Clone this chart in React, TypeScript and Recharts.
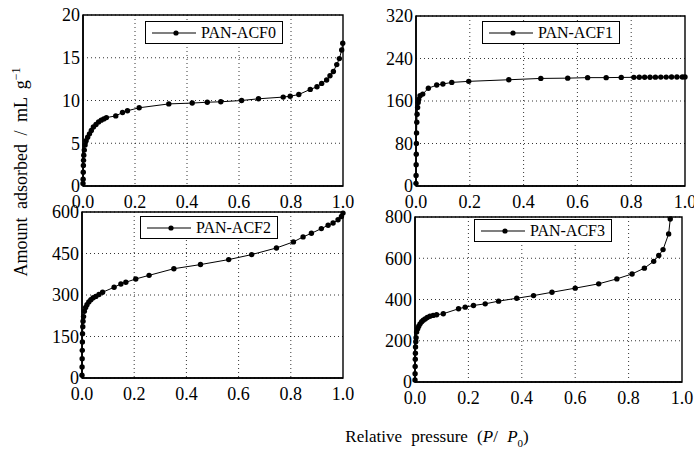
import React from "react"
import {
  LineChart,
  Line,
  XAxis,
  YAxis,
  CartesianGrid,
  ReferenceArea,
  Legend,
} from "recharts"

// relative pressure (P/P0) and amount adsorbed (mL/g) for each fibre
const acf0P = [0, 0.0005, 0.001, 0.0015, 0.002, 0.003, 0.005, 0.008, 0.012, 0.018, 0.025, 0.032, 0.04, 0.05, 0.06, 0.07, 0.08, 0.09, 0.126, 0.152, 0.171, 0.216, 0.33, 0.42, 0.478, 0.53, 0.61, 0.675, 0.77, 0.797, 0.83, 0.874, 0.9, 0.918, 0.937, 0.95, 0.963, 0.976, 0.986, 0.995, 0.999]
const acf0V = [0.3, 0.8, 1.6, 2.4, 3.0, 3.6, 4.2, 4.8, 5.3, 5.7, 6.1, 6.5, 6.9, 7.2, 7.5, 7.7, 7.85, 8.0, 8.2, 8.6, 8.8, 9.15, 9.6, 9.7, 9.8, 9.85, 10.0, 10.2, 10.4, 10.5, 10.7, 11.3, 11.6, 12.0, 12.4, 12.9, 13.4, 14.2, 14.9, 15.9, 16.7]

const acf1P = [0, 0.0003, 0.0006, 0.001, 0.0015, 0.002, 0.003, 0.004, 0.006, 0.008, 0.01, 0.015, 0.025, 0.046, 0.077, 0.1, 0.133, 0.196, 0.345, 0.464, 0.564, 0.638, 0.707, 0.763, 0.81, 0.83, 0.85, 0.87, 0.89, 0.91, 0.93, 0.95, 0.97, 0.99, 1.0]
const acf1V = [5, 20, 40, 60, 80, 100, 120, 135, 148, 157, 163, 170, 173, 184, 190, 192, 195, 197, 200, 202.5, 203, 204, 204, 204.4, 204.5, 204.6, 204.7, 204.8, 204.9, 205, 205, 205.1, 205.2, 205.3, 205.4]

const acf2P = [0, 0.0003, 0.0006, 0.001, 0.0015, 0.002, 0.003, 0.004, 0.006, 0.009, 0.014, 0.019, 0.026, 0.034, 0.043, 0.053, 0.065, 0.079, 0.123, 0.149, 0.168, 0.206, 0.257, 0.352, 0.454, 0.562, 0.65, 0.745, 0.81, 0.847, 0.879, 0.917, 0.943, 0.962, 0.981, 0.994, 1.0]
const acf2V = [10, 40, 70, 100, 130, 160, 185, 205, 222, 241, 255, 265, 275, 283, 290, 295, 302, 310, 328, 340, 346, 358, 371, 395, 410, 428, 446, 470, 492, 510, 523, 540, 552, 560, 572, 584, 596]

const acf3P = [0, 0.0003, 0.0006, 0.001, 0.0015, 0.002, 0.003, 0.004, 0.006, 0.01, 0.014, 0.019, 0.025, 0.031, 0.038, 0.046, 0.056, 0.068, 0.081, 0.106, 0.163, 0.188, 0.219, 0.263, 0.313, 0.381, 0.444, 0.513, 0.6, 0.688, 0.756, 0.813, 0.859, 0.894, 0.913, 0.929, 0.95, 0.956]
const acf3V = [10, 40, 75, 110, 140, 170, 195, 215, 242, 258, 270, 282, 292, 300, 306, 313, 319, 323, 326, 331, 355, 363, 371, 379, 392, 406, 419, 435, 455, 476, 500, 524, 552, 585, 613, 642, 718, 790]

const xTicks = [0, 0.2, 0.4, 0.6, 0.8, 1.0]
const acf0Ticks = [0, 5, 10, 15, 20]
const acf1Ticks = [0, 80, 160, 240, 320]
const acf2Ticks = [0, 150, 300, 450, 600]
const acf3Ticks = [0, 200, 400, 600, 800]

const FONT = "Liberation Serif"

const toRows = (p: number[], v: number[]) => p.map((x, i) => ({ x, y: v[i] }))

type Box = { left: number; top: number; right: number; bottom: number }

const Y_W = 50
const M_TOP = 14
const X_H = 30

function LegendBox({ name }: { name: string }) {
  return (
    <div
      style={{
        border: "1.5px solid #000",
        background: "#fff",
        display: "flex",
        alignItems: "center",
        height: 21,
        padding: "0 6px 0 4px",
        fontFamily: FONT,
        fontSize: 16,
        lineHeight: "16px",
        color: "#000",
        whiteSpace: "nowrap",
      }}
    >
      <svg width={48} height={10} style={{ marginRight: 3 }}>
        <line x1={2} y1={5} x2={46} y2={5} stroke="#000" strokeWidth={1.2} />
        <circle cx={26} cy={5} r={2.6} fill="#000" />
      </svg>
      {name}
    </div>
  )
}

function Panel({
  name,
  rows,
  yTicks,
  box,
  legend,
}: {
  name: string
  rows: { x: number; y: number }[]
  yTicks: number[]
  box: Box
  legend: { left: number; top: number }
}) {
  const yMax = yTicks[yTicks.length - 1]
  const plotW = box.right - box.left
  const plotH = box.bottom - box.top
  const cLeft = box.left - Y_W
  const cTop = box.top - M_TOP
  const width = plotW + Y_W + 12
  const height = plotH + M_TOP + X_H
  const tickStyle = { fontFamily: FONT, fontSize: 18, fill: "#000" }

  return (
    <div style={{ position: "absolute", left: cLeft, top: cTop, fontFamily: FONT }}>
      <LineChart
        width={width}
        height={height}
        data={rows}
        margin={{ top: M_TOP, right: 12, bottom: 0, left: 0 }}
        style={{ fontFamily: FONT }}
      >
        <CartesianGrid
          stroke="#000"
          strokeDasharray="1 3"
          strokeWidth={0.8}
          verticalPoints={xTicks.slice(1, -1).map((t) => box.left - cLeft + t * plotW)}
        />
        <XAxis
          type="number"
          dataKey="x"
          domain={[0, 1]}
          ticks={xTicks}
          tickFormatter={(v: number) => v.toFixed(1)}
          tick={tickStyle}
          tickLine={false}
          tickSize={4}
          tickMargin={5}
          height={X_H}
          axisLine={{ stroke: "#000", strokeWidth: 1.6 }}
          interval={0}
        />
        <YAxis
          type="number"
          domain={[0, yMax]}
          ticks={yTicks}
          tick={tickStyle}
          tickLine={false}
          tickSize={2}
          tickMargin={1}
          width={Y_W}
          axisLine={{ stroke: "#000", strokeWidth: 1.6 }}
          interval={0}
        />
        <ReferenceArea
          x1={0}
          x2={1}
          y1={0}
          y2={yMax}
          fill="none"
          stroke="#000"
          strokeWidth={1.4}
        />
        <Legend
          layout="horizontal"
          verticalAlign="middle"
          align="center"
          wrapperStyle={{ left: legend.left - cLeft, top: legend.top - cTop, width: "auto" }}
          content={() => <LegendBox name={name} />}
        />
        <Line
          type="linear"
          dataKey="y"
          name={name}
          stroke="#000"
          strokeWidth={1}
          dot={{ r: 2.7, fill: "#000", stroke: "#000", strokeWidth: 0 }}
          isAnimationActive={false}
        />
      </LineChart>
    </div>
  )
}

export default function App() {
  return (
    <div
      style={{
        position: "absolute",
        left: 0,
        top: 0,
        width: 694,
        height: 450,
        background: "#fff",
        overflow: "hidden",
        fontFamily: FONT,
      }}
    >
      <Panel
        name="PAN-ACF0"
        rows={toRows(acf0P, acf0V)}
        yTicks={acf0Ticks}
        box={{ left: 83, top: 15, right: 343, bottom: 186 }}
        legend={{ left: 145, top: 21 }}
      />
      <Panel
        name="PAN-ACF1"
        rows={toRows(acf1P, acf1V)}
        yTicks={acf1Ticks}
        box={{ left: 416, top: 16, right: 685, bottom: 186 }}
        legend={{ left: 482, top: 21 }}
      />
      <Panel
        name="PAN-ACF2"
        rows={toRows(acf2P, acf2V)}
        yTicks={acf2Ticks}
        box={{ left: 82, top: 212, right: 343, bottom: 378 }}
        legend={{ left: 140, top: 216 }}
      />
      <Panel
        name="PAN-ACF3"
        rows={toRows(acf3P, acf3V)}
        yTicks={acf3Ticks}
        box={{ left: 415, top: 217, right: 682, bottom: 382 }}
        legend={{ left: 474, top: 219 }}
      />
      <div
        style={{
          position: "absolute",
          left: 20,
          top: 172,
          transform: "translate(-50%, -50%) rotate(-90deg)",
          fontFamily: FONT,
          fontSize: 18,
          wordSpacing: 4,
          whiteSpace: "nowrap",
          color: "#000",
        }}
      >
        Amount adsorbed / mL g<sup style={{ fontSize: 12 }}>−1</sup>
      </div>
      <div
        style={{
          position: "absolute",
          left: 437,
          top: 438,
          transform: "translate(-50%, -50%)",
          fontFamily: FONT,
          fontSize: 17,
          wordSpacing: 5,
          whiteSpace: "nowrap",
          color: "#000",
        }}
      >
        Relative pressure (<i>P</i>/ <i>P</i>
        <sub style={{ fontSize: 11 }}>0</sub>)
      </div>
    </div>
  )
}
